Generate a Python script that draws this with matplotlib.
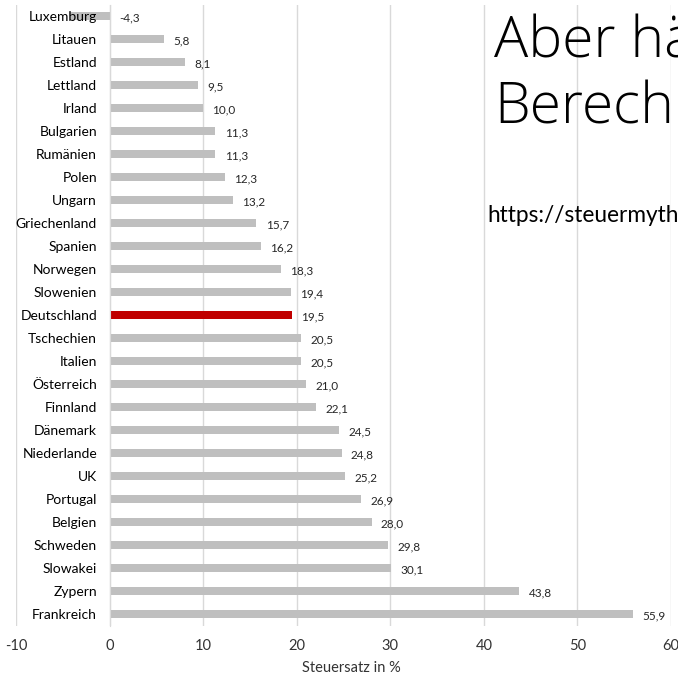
import matplotlib
matplotlib.use("Agg")
import matplotlib.pyplot as plt

countries = ["Luxemburg", "Litauen", "Estland", "Lettland", "Irland", "Bulgarien",
             "Rumänien", "Polen", "Ungarn", "Griechenland", "Spanien", "Norwegen",
             "Slowenien", "Deutschland", "Tschechien", "Italien", "Österreich",
             "Finnland", "Dänemark", "Niederlande", "UK", "Portugal", "Belgien",
             "Schweden", "Slowakei", "Zypern", "Frankreich"]
rates = [-4.3, 5.8, 8.1, 9.5, 10.0, 11.3, 11.3, 12.3, 13.2, 15.7, 16.2, 18.3,
         19.4, 19.5, 20.5, 20.5, 21.0, 22.1, 24.5, 24.8, 25.2, 26.9, 28.0,
         29.8, 30.1, 43.8, 55.9]
highlight = "Deutschland"
xticks = [-10, 0, 10, 20, 30, 40, 50, 60]

plt.rcParams['font.family'] = ['Lato', 'DejaVu Sans']

W, H = 678, 679
fig = plt.figure(figsize=(W / 100, H / 100), dpi=100)
ax = fig.add_axes([16 / W, 1 - 625.5 / H, (671 - 16) / W, (625.5 - 4.5) / H])

ypos = list(range(len(countries)))
colors = ['#c00000' if c == highlight else '#bfbfbf' for c in countries]
ax.barh(ypos, rates, height=0.38, color=colors, zorder=1)

# vertical gridlines behind the bars
for t in xticks:
    ax.axvline(t, color='#d9d9d9', lw=1, zorder=0)

for y, v in zip(ypos, rates):
    ax.text(max(v, 0) + 1.0, y + 0.08, f"{v:.1f}".replace('.', ','),
            va='center', ha='left', fontsize=8.5, color='#262626')

ax.set_xlim(-10, 60)
ax.set_ylim(len(countries) - 0.5, -0.5)
ax.set_xticks(xticks)
ax.set_xticklabels([str(t) for t in xticks], fontsize=10.5, color='#333333')
ax.set_yticks(ypos)
ax.set_yticklabels(countries, fontsize=9.8, color='#1a1a1a')
ax.tick_params(axis='x', length=0, pad=10)
ax.tick_params(axis='y', length=0, pad=9)

for s in ['top', 'right', 'bottom']:
    ax.spines[s].set_visible(False)
ax.spines['left'].set_position(('data', 0))
ax.spines['left'].set_color('#d9d9d9')

fig.text(351 / W, 1 - 668 / H, "Steuersatz in %", ha='center', va='center',
         fontsize=10.5, color='#333333')

heading = dict(ha='left', va='baseline', fontsize=41, fontweight='light',
               family=['Open Sans', 'Lato', 'DejaVu Sans'], color='black')
fig.text(494 / W, 1 - 58 / H, "Aber hä", **heading)
fig.text(494 / W, 1 - 123 / H, "Berechn", **heading)
fig.text(487 / W, 1 - 222 / H, "https://steuermyth", ha='left', va='baseline',
         fontsize=16.3, color='black')

fig.savefig("out.png", dpi=100, facecolor='white')
